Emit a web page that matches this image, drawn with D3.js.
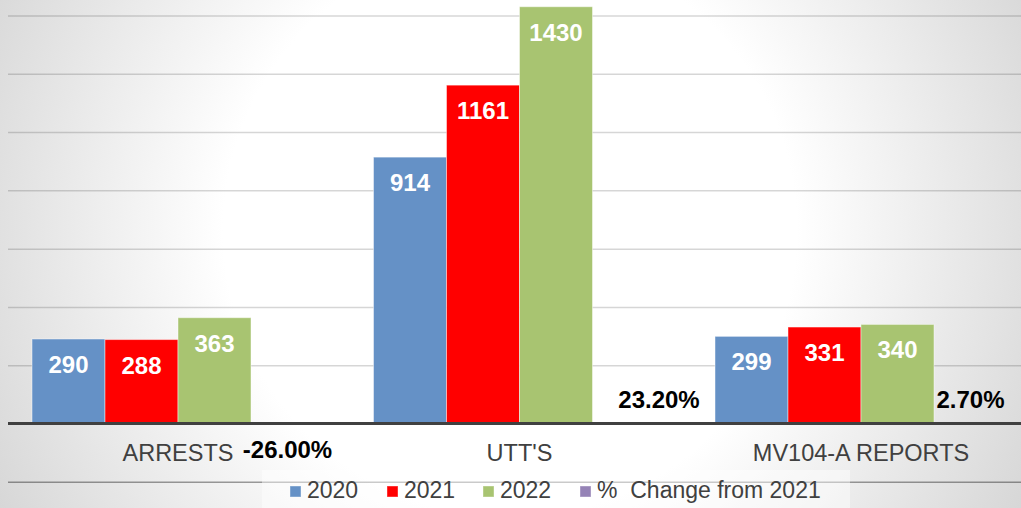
<!DOCTYPE html>
<html>
<head>
<meta charset="utf-8">
<script src="https://cdn.jsdelivr.net/npm/d3@7"></script>
<style>
  body { margin: 0; background: #fff; }
  svg { display: block; font-family: "Liberation Sans", Arial, sans-serif; }
</style>
</head>
<body>
<svg id="chart"></svg>
<script>
// chart data
const categories = ["ARRESTS", "UTT'S", "MV104-A REPORTS"];
const seriesNames = ["2020", "2021", "2022", "%  Change from 2021"];
const values2020 = [290, 914, 299];
const values2021 = [288, 1161, 331];
const values2022 = [363, 1430, 340];
const pctChange = [-0.26, 0.232, 0.027];
const gridTicks = [-200, 0, 200, 400, 600, 800, 1000, 1200, 1400];

const colors = ["#6591c6", "#ff0000", "#a8c471", "#9583b6"];

const width = 1021, height = 508;

const svg = d3.select("#chart")
    .attr("width", width)
    .attr("height", height);

// background radial gradient
const defs = svg.append("defs");
const grad = defs.append("radialGradient")
    .attr("id", "bg")
    .attr("gradientUnits", "userSpaceOnUse")
    .attr("cx", 510).attr("cy", 230).attr("r", 610);
grad.append("stop").attr("offset", "0").attr("stop-color", "#ffffff");
grad.append("stop").attr("offset", "0.47").attr("stop-color", "#ffffff");
grad.append("stop").attr("offset", "1").attr("stop-color", "#d3d3d3");

svg.append("rect")
    .attr("width", width).attr("height", height)
    .attr("fill", "url(#bg)");

// scales
const x0 = d3.scaleBand()
    .domain(categories)
    .range([7.25, 1031.75])
    .paddingInner(0.145)
    .paddingOuter(0.0725);

const x1 = d3.scaleBand()
    .domain(d3.range(4))
    .range([0, x0.bandwidth()]);

const y = d3.scaleLinear()
    .domain([-200, 1600])
    .range([481.8, -42.8]);

// gridlines
const grid = svg.append("g")
    .attr("transform", "translate(8,0)")
    .call(d3.axisLeft(y).tickValues(gridTicks).tickSize(-(width - 8)).tickFormat(""));
grid.select(".domain").remove();
grid.selectAll(".tick line")
    .attr("stroke", "#000")
    .attr("stroke-opacity", d => d === -200 ? 0.38 : 0.16)
    .attr("stroke-width", 1.5);

// legend background
svg.append("rect")
    .attr("x", 262).attr("y", 470)
    .attr("width", 588).attr("height", 38)
    .attr("fill", "#fff").attr("fill-opacity", 0.45);

const rows = categories.map((c, i) => ({
    cat: c,
    vals: [values2020[i], values2021[i], values2022[i], pctChange[i]]
}));

const groups = svg.append("g").selectAll("g")
    .data(rows)
    .join("g")
    .attr("transform", d => `translate(${x0(d.cat)},0)`);

// bars
groups.selectAll("rect")
    .data(d => d.vals.map((v, k) => ({ k, v })))
    .join("rect")
    .attr("x", d => x1(d.k))
    .attr("width", x1.bandwidth())
    .attr("y", d => y(Math.max(0, d.v)))
    .attr("height", d => Math.abs(y(d.v) - y(0)))
    .attr("fill", d => colors[d.k])
    .attr("stroke", "#fff")
    .attr("stroke-opacity", 0.45)
    .attr("stroke-width", 1);

// value labels inside bars
groups.selectAll(".val")
    .data(d => d.vals.slice(0, 3).map((v, k) => ({ k, v })))
    .join("text")
    .attr("class", "val")
    .attr("x", d => x1(d.k) + x1.bandwidth() / 2)
    .attr("y", d => y(d.v) + 34)
    .attr("text-anchor", "middle")
    .attr("fill", "#fff")
    .style("font-size", "24px")
    .style("font-weight", "bold")
    .text(d => d.v);

// percent labels
const fmtPct = d3.formatLocale({ decimal: ".", thousands: ",", grouping: [3], currency: ["$", ""], minus: "-" }).format(".2%");
const pctDx = [0, 30, 0];
groups.append("text")
    .attr("class", "pct")
    .attr("x", (d, i) => x1(3) + x1.bandwidth() / 2 + pctDx[i])
    .attr("y", d => d.vals[3] < 0 ? y(0) + 34 : y(0) - 16)
    .attr("text-anchor", "middle")
    .attr("fill", "#000")
    .style("font-size", "24px")
    .style("font-weight", "bold")
    .text(d => fmtPct(d.vals[3]));

// zero axis line
svg.append("line")
    .attr("x1", 8).attr("x2", width)
    .attr("y1", y(0)).attr("y2", y(0))
    .attr("stroke", "#404040")
    .attr("stroke-width", 3);

// category labels
svg.append("g").selectAll("text")
    .data(categories)
    .join("text")
    .attr("x", d => x0(d) + x0.bandwidth() / 2)
    .attr("y", 461)
    .attr("text-anchor", "middle")
    .attr("fill", "#404040")
    .style("font-size", "23.5px")
    .text(d => d);

// legend
const legendX = [290, 387, 483, 580];
const legend = svg.append("g").selectAll("g")
    .data(seriesNames)
    .join("g")
    .attr("transform", (d, i) => `translate(${legendX[i]},486)`);
legend.append("rect")
    .attr("width", 11).attr("height", 11)
    .attr("fill", (d, i) => colors[i])
    .attr("stroke", "#fff").attr("stroke-opacity", 0.4);
legend.append("text")
    .attr("x", 17)
    .attr("y", 12)
    .attr("fill", "#404040")
    .attr("xml:space", "preserve")
    .style("white-space", "pre")
    .style("font-size", "23px")
    .text(d => d);
</script>
</body>
</html>
